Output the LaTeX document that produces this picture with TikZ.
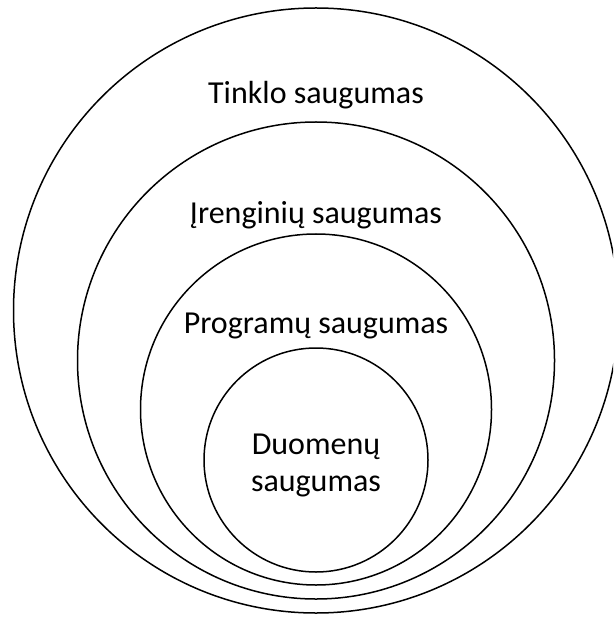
\documentclass[tikz,border=0pt]{standalone}
\usepackage{fontspec}
\setmainfont{Carlito}
\begin{document}
\begin{tikzpicture}[x=1pt,y=-1pt,
  ring/.style={draw=black,line width=1.5pt},
  lbl/.style={font=\fontsize{32}{37}\selectfont,anchor=base,inner sep=0pt,align=center}]
  \useasboundingbox (0,0) rectangle (613,617);
  \clip (0,0) rectangle (613,617);
  % nested security layers, all sharing a vertical axis
  \draw[ring] (316,310.5) circle[radius=302.5pt];
  \draw[ring] (316,360.5) circle[radius=238.5pt];
  \draw[ring] (316,409.5) circle[radius=175.5pt];
  \draw[ring] (316,460)   circle[radius=112pt];
  % layer names (base anchor sits on the last line)
  \node[lbl] (net)  at (316,104) {Tinklo saugumas};
  \node[lbl] (dev)  at (316,224) {Įrenginių saugumas};
  \node[lbl] (app)  at (316,333) {Programų saugumas};
  \node[lbl] (data) at (316,491) {Duomenų\\saugumas};
\end{tikzpicture}
\end{document}
